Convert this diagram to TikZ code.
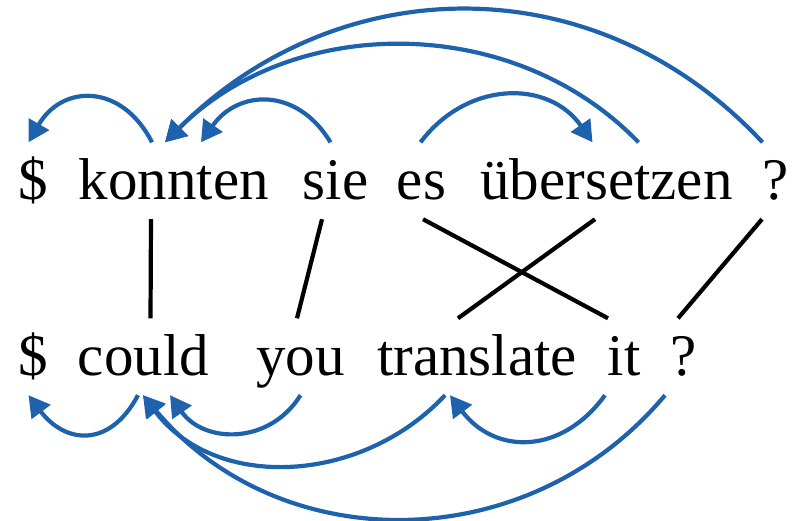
\documentclass[tikz,border=0pt]{standalone}
\usepackage{fontspec}
\setmainfont{Liberation Serif}
\usepackage{tikz}
\usetikzlibrary{arrows.meta}
\definecolor{DepBlue}{HTML}{1E62AE}

\begin{document}
\begin{tikzpicture}[
    x=1pt,y=1pt,
    word/.style={anchor=base,inner xsep=0pt,inner ysep=14pt,text height=42.5pt,text depth=6pt,font=\fontsize{59}{64}\selectfont},
    dep/.style={-{Triangle[length=21pt,width=23pt]},line width=4.2pt,draw=DepBlue},
    link/.style={line width=4.2pt,draw=black}
  ]
    \useasboundingbox (0,0) rectangle (792,-520);

    % German sentence
    \node[word] (gd) at (33.5,-199) {\$};
    \node[word] (gk) at (174,-199) {konnten};
    \node[word] (gs) at (335.5,-199) {sie};
    \node[word] (ge) at (421.5,-199) {es};
    \node[word] (gu) at (606.5,-199) {übersetzen};
    \node[word] (gq) at (775.5,-199) {?};

    % English sentence
    \node[word] (ed) at (33.5,-375) {\$};
    \node[word] (ec) at (143.5,-375) {could};
    \node[word] (ey) at (300.5,-375) {you};
    \node[word] (et) at (477,-375) {translate};
    \node[word] (ei) at (624,-375) {it};
    \node[word] (eq) at (684,-375) {?};

    % alignment links
    \draw[link] ([xshift=-23pt]gk.south) -- ([xshift=7pt]ec.north);
    \draw[link] ([xshift=-13.5pt]gs.south) -- ([xshift=-3.5pt]ey.north);
    \draw[link] ([xshift=1.5pt]ge.south) -- ([xshift=-16pt]ei.north);
    \draw[link] ([xshift=-11.5pt]gu.south) -- ([xshift=-19pt]et.north);
    \draw[link] ([xshift=-13.5pt]gq.south) -- ([xshift=-6pt]eq.north);

    % German dependencies
    \draw[dep] ([xshift=-22pt]gk.north) to[out=117,in=60,looseness=1.39] ([xshift=-5pt]gd.north);
    \draw[dep] ([xshift=-5pt]gs.north) to[out=121,in=55,looseness=1.28] ([xshift=27pt]gk.north);
    \draw[dep] ([xshift=-1pt]ge.north) to[out=53,in=125,looseness=1.15] ([xshift=-14pt]gu.north);
    \draw[dep] ([xshift=32pt]gu.north) to[out=134,in=45,looseness=0.98] ([xshift=-9pt]gk.north);
    \draw[dep] ([xshift=-13pt]gq.north) to[out=133,in=45,looseness=1.05] ([xshift=-9pt]gk.north);

    % English dependencies
    \draw[dep] ([xshift=-5.5pt]ec.south) to[out=-118,in=-53,looseness=1.42] ([xshift=-5pt]ed.south);
    \draw[dep] (ey.south) to[out=-122,in=-55,looseness=1.16] ([xshift=26.5pt]ec.south);
    \draw[dep] ([xshift=-32pt]et.south) to[out=-133,in=-53,looseness=1.03] ([xshift=-0.5pt]ec.south);
    \draw[dep] ([xshift=-19pt]eq.south) to[out=-130,in=-50,looseness=1.05] ([xshift=-0.5pt]ec.south);
    \draw[dep] ([xshift=-19pt]ei.south) to[out=-126,in=-53,looseness=1.23] ([xshift=-27pt]et.south);
  \end{tikzpicture}
\end{document}
